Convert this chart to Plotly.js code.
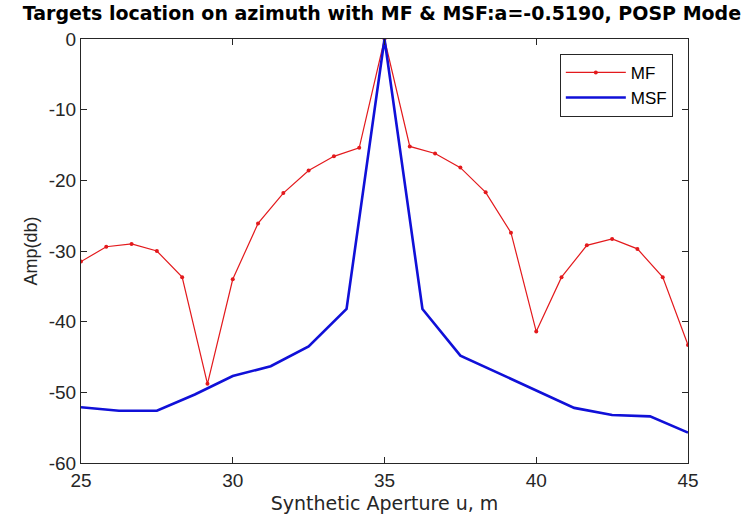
<!DOCTYPE html>
<html>
<head>
<meta charset="utf-8">
<script src="https://cdn.plot.ly/plotly-3.0.1.min.js"></script>
<style>html,body{margin:0;padding:0;background:#fff;}#chart{width:743px;height:530px;}</style>
</head>
<body>
<div id="chart"></div>
<script>
// MF series (red, with dot markers)
const mfX = [25, 25.833, 26.667, 27.5, 28.333, 29.167, 30, 30.833, 31.667, 32.5, 33.333, 34.167, 35,
             35.833, 36.667, 37.5, 38.333, 39.167, 40, 40.833, 41.667, 42.5, 43.333, 44.167, 45];
const mfY = [-31.5, -29.4, -29.0, -30.0, -33.7, -48.8, -34.0, -26.1, -21.8, -18.6, -16.6, -15.4, 0,
             -15.2, -16.2, -18.2, -21.7, -27.4, -41.4, -33.7, -29.2, -28.3, -29.7, -33.7, -43.3];
// MSF series (blue)
const msfX = [25, 26.25, 27.5, 28.75, 30, 31.25, 32.5, 33.75, 35, 36.25, 37.5, 38.75, 40, 41.25, 42.5, 43.75, 45];
const msfY = [-52.1, -52.6, -52.6, -50.3, -47.7, -46.3, -43.5, -38.2, 0, -38.2, -44.8, -47.3, -49.8, -52.2, -53.2, -53.4, -55.7];

const xTicks = [25, 30, 35, 40, 45];
const yTicks = [-60, -50, -40, -30, -20, -10, 0];

const axisColor = '#262626';
const tickFont = {family: 'Liberation Sans, Arial, sans-serif', size: 19, color: '#262626'};

const traces = [
  {x: mfX, y: mfY, name: 'MF', type: 'scatter', mode: 'lines+markers',
   line: {color: '#e3191c', width: 1.2}, marker: {color: '#e3191c', size: 4}},
  {x: msfX, y: msfY, name: 'MSF', type: 'scatter', mode: 'lines',
   line: {color: '#1010d8', width: 2.6}}
];

const layout = {
  width: 743, height: 530,
  margin: {l: 81, r: 55, t: 39, b: 67},
  paper_bgcolor: '#fff', plot_bgcolor: '#fff',
  title: {text: '<b>Targets location on azimuth with MF & MSF:a=-0.5190, POSP Mode</b>',
          font: {family: 'DejaVu Sans, Liberation Sans, Arial, sans-serif', size: 19, color: '#000'},
          x: 0.514, xanchor: 'center', y: 0.987, yanchor: 'top'},
  xaxis: {range: [25, 45], tickvals: xTicks, ticktext: xTicks.map(String),
          showgrid: false, zeroline: false, showline: true, linecolor: axisColor, linewidth: 1,
          mirror: 'ticks', ticks: 'inside', ticklen: 6, tickcolor: axisColor, tickfont: tickFont,
          title: {text: 'Synthetic Aperture u, m', font: {family: 'DejaVu Sans, Liberation Sans, Arial, sans-serif', size: 19, color: '#262626'}, standoff: 6}},
  yaxis: {range: [-60, 0], tickvals: yTicks, ticktext: yTicks.map(String),
          showgrid: false, zeroline: false, showline: true, linecolor: axisColor, linewidth: 1,
          mirror: 'ticks', ticks: 'inside', ticklen: 6, tickcolor: axisColor, tickfont: tickFont,
          title: {text: 'Amp(db)', font: {family: 'Liberation Sans, Arial, sans-serif', size: 18, color: '#262626'}, standoff: 6}},
  legend: {x: 0.975, xanchor: 'right', y: 0.965, yanchor: 'top',
           bgcolor: '#fff', bordercolor: '#262626', borderwidth: 1,
           font: {family: 'Liberation Sans, Arial, sans-serif', size: 17, color: '#000'},
           tracegroupgap: 0, itemwidth: 60},
  showlegend: true
};

Plotly.newPlot('chart', traces, layout, {displayModeBar: false, staticPlot: true});
</script>
</body>
</html>
